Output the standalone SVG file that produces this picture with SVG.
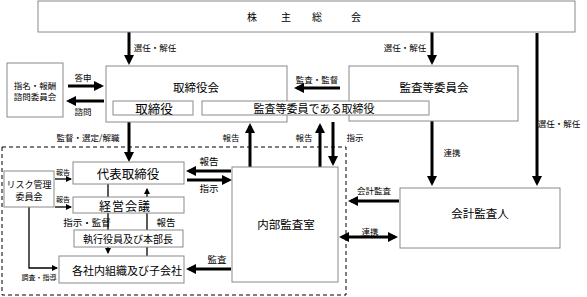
<svg xmlns="http://www.w3.org/2000/svg" width="587" height="297" viewBox="0 0 587 297">
<style>
  .box { fill: #fff; stroke: #8a8a8a; stroke-width: 1; }
  .t { font-family: "Noto Sans CJK JP", "Noto Sans", sans-serif; fill: #000; text-anchor: middle; dominant-baseline: central; }
  .lbl { font-size: 8.5px; }
  .sm { font-size: 7px; }
  .mid { font-size: 9.5px; }
  .thick { stroke: #000; stroke-width: 3; fill: none; }
  .thin { stroke: #000; stroke-width: 1.3; fill: none; }
  .dash { fill: none; stroke: #000; stroke-width: 1; stroke-dasharray: 4 3; }
</style>
<defs>
  <marker id="a" markerUnits="userSpaceOnUse" markerWidth="10" markerHeight="10" viewBox="0 0 10 10" refX="7" refY="5" orient="auto-start-reverse">
    <path d="M0,0 L10,5 L0,10 z" fill="#000"/>
  </marker>
  <marker id="b" markerUnits="userSpaceOnUse" markerWidth="6" markerHeight="6" viewBox="0 0 6 6" refX="5" refY="3" orient="auto">
    <path d="M0,0 L6,3 L0,6 z" fill="#000"/>
  </marker>
</defs>

<rect class="dash" x="2" y="147" width="344" height="148"/>

<g id="connectors">
  <path class="thick" d="M129,32 V62" marker-end="url(#a)"/>
  <path class="thick" d="M432,32 V62" marker-end="url(#a)"/>
  <path class="thick" d="M537,33 V183" marker-end="url(#a)"/>
  <path class="thick" d="M68,86 H101" marker-end="url(#a)"/>
  <path class="thick" d="M104,101 H69" marker-end="url(#a)"/>
  <path class="thick" d="M340,88 H297" marker-end="url(#a)"/>
  <path class="thick" d="M129,122 V159" marker-end="url(#a)"/>
  <path class="thick" d="M250,167 V126" marker-end="url(#a)"/>
  <path class="thick" d="M320,167 V126" marker-end="url(#a)"/>
  <path class="thick" d="M333,122 V163" marker-end="url(#a)"/>
  <path class="thick" d="M432,121 V183" marker-end="url(#a)"/>
  <path class="thick" d="M231,171 H189" marker-end="url(#a)"/>
  <path class="thick" d="M187,180 H229" marker-end="url(#a)"/>
  <path class="thick" d="M231,269 H189" marker-end="url(#a)"/>
  <path class="thick" d="M399,201 H351" marker-end="url(#a)"/>
  <path class="thick" d="M342,237 H395" marker-start="url(#a)" marker-end="url(#a)"/>
  <path class="thin" d="M55,179 H71" marker-end="url(#b)"/>
  <path class="thin" d="M55,207 H71" marker-end="url(#b)"/>
  <path class="thin" d="M29,207 V268 H57" marker-end="url(#b)"/>
  <path class="thin" d="M108,184 V253" marker-end="url(#b)"/>
  <path class="thin" d="M147,256 V189" marker-end="url(#b)"/>

  <text class="t lbl" x="155" y="47">選任・解任</text>
  <text class="t lbl" x="405" y="47">選任・解任</text>
  <text class="t lbl" x="559" y="123">選任・解任</text>
  <text class="t lbl" x="83" y="77">答申</text>
  <text class="t lbl" x="83" y="111">諮問</text>
  <text class="t lbl" x="317" y="79">監査・監督</text>
  <text class="t lbl" x="88" y="137">監督・選定/解職</text>
  <text class="t lbl" x="231" y="137">報告</text>
  <text class="t lbl" x="304" y="137">報告</text>
  <text class="t lbl" x="355" y="137">指示</text>
  <text class="t lbl" x="452" y="152">連携</text>
  <text class="t lbl" x="374" y="190">会計監査</text>
  <text class="t lbl" x="370" y="231">連携</text>
  <text class="t mid" x="209" y="161">報告</text>
  <text class="t mid" x="209" y="188">指示</text>
  <text class="t mid" x="217" y="259">監査</text>
  <text class="t mid" x="87" y="222">指示・監督</text>
  <text class="t mid" x="166" y="222">報告</text>
  <text class="t sm" x="63" y="172">報告</text>
  <text class="t sm" x="63" y="199">報告</text>
  <text class="t sm" x="39" y="277">調査・指導</text>
</g>

<g id="shareholders">
  <rect class="box" x="38" y="1" width="537" height="31"/>
  <text class="t" style="font-size:10px" x="252 286 317 356" y="16">株主総会</text>
</g>
<g id="audit-committee">
  <rect class="box" x="349" y="66" width="169" height="55"/>
  <text class="t" style="font-size:11.5px" x="434" y="87">監査等委員会</text>
</g>
<g id="board">
  <rect class="box" x="106" y="66" width="181" height="56"/>
  <text class="t" style="font-size:11.5px" x="196" y="87">取締役会</text>
</g>
<g id="directors">
  <rect class="box" x="113" y="101" width="80" height="14"/>
  <text class="t" style="font-size:12.5px" x="154" y="108">取締役</text>
</g>
<g id="audit-directors">
  <rect class="box" x="202" y="101" width="227" height="14"/>
  <text class="t" style="font-size:11px" x="314" y="108">監査等委員である取締役</text>
</g>
<g id="nomination">
  <rect class="box" x="7" y="63" width="56" height="54"/>
  <text class="t lbl" x="35" y="85">指名・報酬</text>
  <text class="t lbl" x="35" y="96">諮問委員会</text>
</g>
<g id="representative">
  <rect class="box" x="73" y="162" width="111" height="22"/>
  <text class="t" style="font-size:12.5px" x="128" y="173">代表取締役</text>
</g>
<g id="management-meeting">
  <rect class="box" x="73" y="197" width="111" height="16"/>
  <text class="t" style="font-size:12px;letter-spacing:1px" x="125" y="205">経営会議</text>
</g>
<g id="executives">
  <rect class="box" x="74" y="230" width="109" height="17"/>
  <text class="t" style="font-size:10px" x="128" y="238.5">執行役員及び本部長</text>
</g>
<g id="subsidiaries">
  <rect class="box" x="59" y="256" width="125" height="27"/>
  <text class="t" style="font-size:11px" x="127" y="270">各社内組織及び子会社</text>
</g>
<g id="risk">
  <rect class="box" x="4" y="171" width="50" height="36"/>
  <text class="t" style="font-size:9px" x="29" y="184">リスク管理</text>
  <text class="t" style="font-size:9px" x="29" y="196">委員会</text>
</g>
<g id="internal-audit">
  <rect class="box" x="232" y="167" width="106" height="115"/>
  <text class="t" style="font-size:11.5px" x="286" y="224">内部監査室</text>
</g>
<g id="accounting-auditor">
  <rect class="box" x="400" y="188" width="160" height="60"/>
  <text class="t" style="font-size:11.5px" x="480" y="213">会計監査人</text>
</g>
</svg>
